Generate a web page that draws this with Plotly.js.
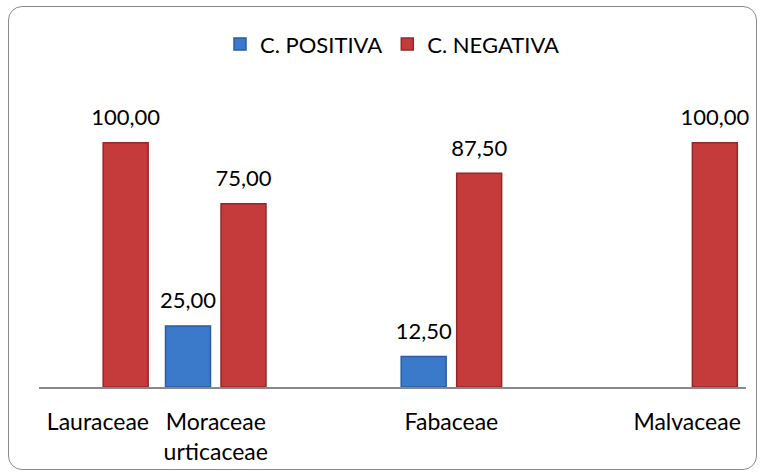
<!DOCTYPE html>
<html>
<head>
<meta charset="utf-8">
<script src="https://cdn.plot.ly/plotly-3.0.1.min.js"></script>
<style>
html,body{margin:0;padding:0;background:#fff;}
#wrap{position:relative;width:764px;height:476px;}
#chart{position:absolute;left:0;top:0;width:764px;height:476px;}
#frame{position:absolute;left:8px;top:6px;width:747px;height:462px;border:1.5px solid #8a8a8a;border-radius:14px;pointer-events:none;}
</style>
</head>
<body>
<div id="wrap"><div id="chart"></div><div id="frame"></div></div>
<script>
// Categories (two empty slots exist in the original chart)
const categories = ['Lauraceae', 'Moraceae<br>urticaceae', ' ', 'Fabaceae', '  ', 'Malvaceae'];
const seriesNames = ['C. POSITIVA', 'C. NEGATIVA'];
const positiva = [null, 25.00, null, 12.50, null, null];
const negativa = [100.00, 75.00, null, 87.50, null, 100.00];

const font = 'Lato, Open Sans, sans-serif';
const colors = ['#3b7acb', '#c53a3b'];
const edges = ['#2a5c9e', '#922829'];
const series = [positiva, negativa];

const traces = [];
series.forEach((vals, i) => {
  traces.push({
    type: 'bar', name: seriesNames[i], x: categories, y: vals,
    marker: {color: colors[i], line: {color: edges[i], width: 1.5}},
    hoverinfo: 'none'
  });
});
// value labels, grouped the same way as the bars
series.forEach((vals, i) => {
  traces.push({
    type: 'scatter', mode: 'markers+text', x: categories, y: vals,
    text: vals.map(v => v === null ? '' : v.toFixed(2).replace('.', ',')),
    textposition: 'top center', cliponaxis: false, showlegend: false, hoverinfo: 'none',
    marker: {size: 18, color: 'rgba(0,0,0,0)'},
    textfont: {family: font, size: 22, color: '#000'}
  });
});

const layout = {
  width: 764, height: 476,
  margin: {l: 39, r: 18, t: 94, b: 89},
  paper_bgcolor: 'rgba(0,0,0,0)', plot_bgcolor: 'rgba(0,0,0,0)',
  separators: ',.',
  barmode: 'group', bargap: 0.058, bargroupgap: 0.19,
  scattermode: 'group', scattergap: 0.058,
  font: {family: font, size: 21, color: '#000'},
  showlegend: true,
  legend: {orientation: 'h', x: 0.5, xanchor: 'center', y: 1.17, yanchor: 'middle',
           font: {family: font, size: 22, color: '#000'}, itemwidth: 30, tracegroupgap: 0},
  xaxis: {
    type: 'category', categoryorder: 'array', categoryarray: categories,
    showline: true, linecolor: '#888', linewidth: 1.5, showgrid: false, zeroline: false,
    ticks: 'outside', ticklen: 14, tickcolor: 'rgba(0,0,0,0)',
    tickfont: {family: font, size: 23, color: '#000'}, fixedrange: true
  },
  yaxis: {range: [0, 120], visible: false, showgrid: false, zeroline: false, fixedrange: true}
};

Plotly.newPlot('chart', traces, layout, {displayModeBar: false, staticPlot: true});
</script>
</body>
</html>
